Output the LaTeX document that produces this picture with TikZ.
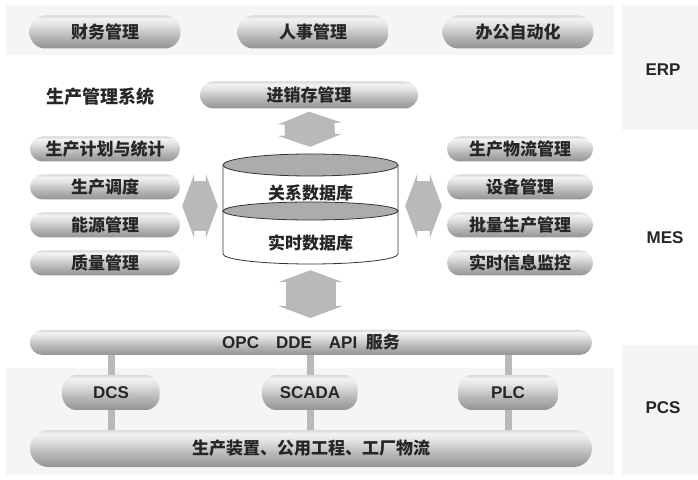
\documentclass[tikz,border=0pt]{standalone}
\usepackage{fontspec}
\setmainfont{Liberation Sans}
\newfontfamily\cjk{Noto Sans CJK SC}
\usetikzlibrary{arrows.meta,backgrounds}
\pgfdeclareverticalshading{brillo}{100bp}{color(0bp)=(gray!85); color(25bp)=(gray!85); color(42bp)=(gray!58); color(60bp)=(gray!24); color(70bp)=(gray!10); color(75bp)=(gray!30); color(100bp)=(gray!30)}
\newcommand\cjkb{\cjk\bfseries\fontsize{17}{17}\selectfont}
\newcommand\latb{\bfseries\fontsize{17}{17}\selectfont}
\tikzset{
  fondo/.style={fill=gray!8},
  btn/.style={shading=brillo, rounded corners=12.5pt, minimum width=150pt,
    minimum height=25pt, inner sep=0pt, font=\cjkb, text=black!85},
  erpbtn/.style={btn, minimum width=151pt, minimum height=33pt, rounded corners=16pt},
  barralarga/.style={btn, minimum width=562pt},
  pcsbtn/.style={btn, minimum height=35pt, rounded corners=14pt, font=\latb},
  capa/.style={font=\latb, text=black!85},
  flecha/.style={line width=50pt, draw=gray!55,
    {Triangle[width=64pt,length=12pt]}-{Triangle[width=64pt,length=12pt]}},
  barra/.style={line width=7pt, draw=gray!55}
}
\begin{document}
\begin{tikzpicture}[x=1pt,y=1pt]
\useasboundingbox (0,0) rectangle (698,479);
% Fondos
\begin{scope}[on background layer]
\fill[white] (0,0) rectangle (698,479);
\fill[fondo] (6,424) rectangle (614,474);
\fill[fondo] (622,349) rectangle (698,474);
\fill[fondo] (6,4) rectangle (614,111);
\fill[fondo] (622,4) rectangle (698,134);
\end{scope}
% ERP
\node[erpbtn] (caiwu) at (105,447) {财务管理};
\node[erpbtn] (renshi) at (313,447) {人事管理};
\node[erpbtn] (bangong) at (518,447) {办公自动化};
% MES
\node[font=\cjk\bfseries\fontsize{18}{18}\selectfont, text=black!85] (sistema) at (100,382) {生产管理系统};
\node[btn, minimum width=218pt, minimum height=27pt, rounded corners=13.5pt] (jxc) at (309,384) {进销存管理};
\foreach \t/\y [count=\i] in {生产计划与统计/330,生产调度/292,能源管理/254,质量管理/216}
  \node[btn] (izq\i) at (105,\y) {\t};
\foreach \t/\y [count=\i] in {生产物流管理/330,设备管理/292,批量生产管理/254,实时信息监控/216}
  \node[btn, minimum width=146pt] (der\i) at (520,\y) {\t};
% Base de datos
\node[minimum width=175pt, minimum height=110pt, inner sep=0pt] (db) at (310.5,270) {};
\fill[white] (223,314) -- (223,225) arc[start angle=180, end angle=360, x radius=87.5, y radius=10] -- (398,314) -- cycle;
\draw[black!80, thick] (223,314) -- (223,225) arc[start angle=180, end angle=360, x radius=87.5, y radius=10] -- (398,314);
\filldraw[fill=gray!65, draw=black!80, thick] (310.5,314) ellipse[x radius=87.5, y radius=11];
\filldraw[fill=gray!65, draw=black!80, thick] (310.5,268) ellipse[x radius=87.5, y radius=9];
\node[font=\cjkb, text=black!85] (relacional) at (310.5,286) {关系数据库};
\node[font=\cjkb, text=black!85] (tiemporeal) at (310.5,236) {实时数据库};
% Flechas
\draw[flecha, shorten <=3pt, shorten >=7pt] (jxc.south) -- (db.north);
\draw[flecha, shorten <=6pt, shorten >=12pt] (db.south) -- (db.south |- 0,149);
\draw[flecha, shorten <=2pt, shorten >=5pt] ([yshift=3pt]db.west -| izq2.east) -- ([yshift=3pt]db.west);
\draw[flecha, shorten <=7pt, shorten >=5pt] ([yshift=3pt]db.east) -- ([yshift=3pt]db.east -| der2.west);
% PCS
\node[barralarga, font=\latb] (opc) at (311,136.5) {OPC\quad DDE\quad API\enspace{\cjk 服务}};
\node[barralarga, minimum height=37pt, rounded corners=18.5pt] (base) at (311,30.5) {生产装置、公用工程、工厂物流};
\node[pcsbtn, minimum width=97pt] (dcs) at (111,86.5) {DCS};
\node[pcsbtn, minimum width=95pt] (scada) at (310,86.5) {SCADA};
\node[pcsbtn, minimum width=100pt] (plc) at (508,86.5) {PLC};
\begin{scope}[on background layer]
\foreach \n in {dcs,scada,plc}
  \draw[barra] (\n |- opc.south) -- (\n |- base.north);
\end{scope}
% Capas
\node[capa] (erp) at (663,409) {ERP};
\node[capa] (mes) at (665,241) {MES};
\node[capa] (pcs) at (663,71) {PCS};
\end{tikzpicture}
\end{document}
